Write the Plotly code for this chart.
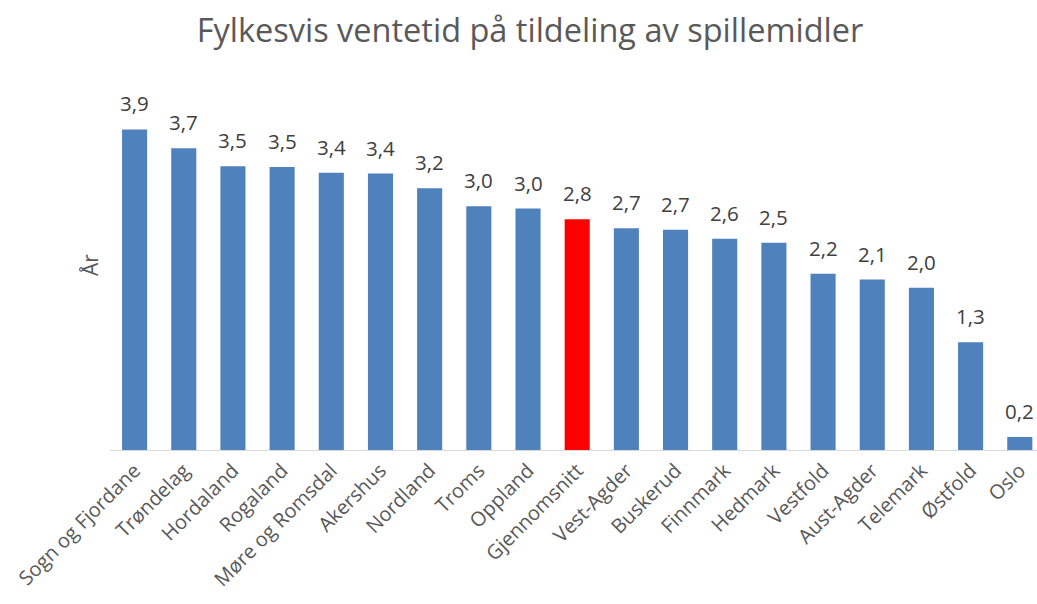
import plotly.graph_objects as go

categories = ["Sogn og Fjordane", "Trøndelag", "Hordaland", "Rogaland", "Møre og Romsdal",
              "Akershus", "Nordland", "Troms", "Oppland", "Gjennomsnitt", "Vest-Agder",
              "Buskerud", "Finnmark", "Hedmark", "Vestfold", "Aust-Agder", "Telemark",
              "Østfold", "Oslo"]
values = [3.93, 3.70, 3.48, 3.47, 3.40, 3.39, 3.21, 2.99, 2.96, 2.83, 2.72,
          2.70, 2.59, 2.54, 2.16, 2.09, 1.99, 1.32, 0.16]
highlight = "Gjennomsnitt"

colors = ["#FF0000" if c == highlight else "#4F81BD" for c in categories]

fig = go.Figure(go.Bar(
    x=categories, y=values,
    marker=dict(color=colors, line=dict(width=0)),
    width=0.51,
    hoverinfo="x+y",
))

value_labels = [
    dict(x=c, y=v, xref="x", yref="y", text=f"{v:.1f}".replace(".", ","),
         yanchor="bottom", xanchor="center", yshift=10, showarrow=False,
         font=dict(family="Open Sans", size=20.5, color="#404040"))
    for c, v in zip(categories, values)
]

fig.update_layout(
    width=1037, height=604,
    margin=dict(l=110, r=0, t=83, b=154),
    paper_bgcolor="white", plot_bgcolor="white",
    separators=", ",
    showlegend=False,
    title=dict(text="Fylkesvis ventetid på tildeling av spillemidler",
               x=530 / 1037, xanchor="center", y=1 - 31 / 604, yanchor="middle",
               font=dict(family="Open Sans", size=32.5, color="#595959")),
    xaxis=dict(range=[-0.5, 18.35], showline=True, linecolor="#D9D9D9", linewidth=1,
               tickangle=-45, ticks="", showgrid=False, automargin=False,
               tickfont=dict(family="Open Sans", size=20, color="#595959")),
    yaxis=dict(range=[0, 4.5], visible=False, automargin=False),
    annotations=value_labels + [dict(text="År", xref="paper", yref="paper", x=0, xshift=-20,
                      y=0.504, xanchor="center", yanchor="middle", textangle=-90,
                      showarrow=False,
                      font=dict(family="Open Sans", size=21, color="#595959"))],
)

fig.write_html("out.html", config={"displayModeBar": False},
               post_script="document.body.style.margin='0';")
